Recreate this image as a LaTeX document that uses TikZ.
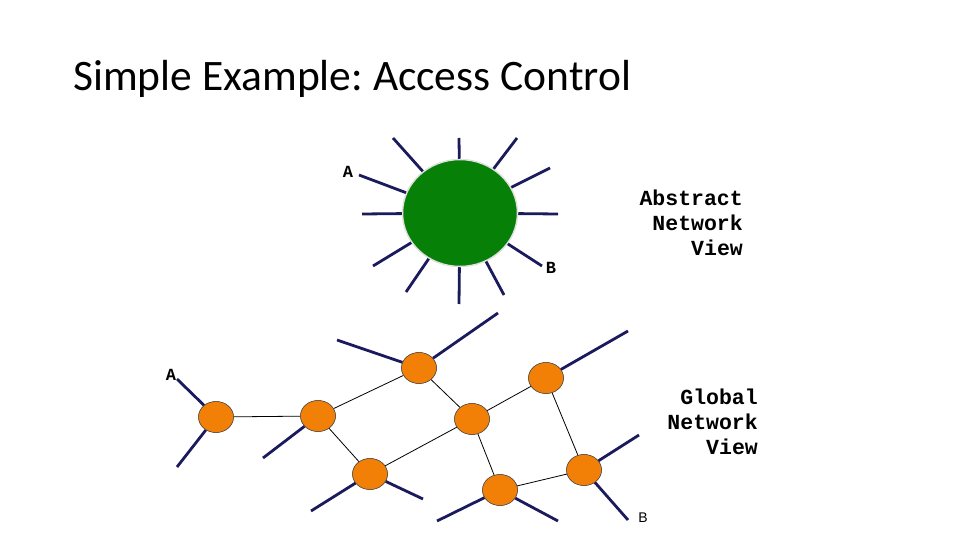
\documentclass[tikz,border=0pt]{standalone}
\usepackage{fontspec}
\usepackage{tikz}
\usetikzlibrary{shapes.geometric}
\setmainfont{Carlito}
\newfontfamily\monofont{Liberation Mono}
\newfontfamily\labelsans{Liberation Sans}
\definecolor{spokeblue}{HTML}{1B1A5C}
\definecolor{hubgreen}{HTML}{078007}
\definecolor{routerorange}{HTML}{F28006}
\frenchspacing

\begin{document}
\begin{tikzpicture}[x=1pt, y=-1pt,
    spoke/.style={draw=spokeblue, line width=2.8pt},
    link/.style={draw=black, line width=0.8pt},
    router/.style={ellipse, draw=black!70, line width=0.5pt, fill=routerorange, minimum width=35pt, minimum height=31pt, inner sep=0pt},
    hostlbl/.style={font=\monofont\bfseries\fontsize{17}{17}\selectfont, inner sep=0pt},
    viewlbl/.style={font=\monofont\bfseries\fontsize{21.5}{25}\selectfont, align=right, inner sep=0pt, anchor=east}]

    \useasboundingbox (0,0) rectangle (960,540);

    % Title
    \node (title) [anchor=base west, inner sep=0pt, font=\fontsize{43.5}{43.5}\selectfont] at (73,91) {Simple Example: Access Control};

    % Abstract view: one big switch
    \node (hub) [ellipse, draw=black!12, line width=1.5pt, fill=hubgreen, minimum width=115pt, minimum height=107pt, inner sep=0pt] at (460,213) {};

    \coordinate (h1) at (459,138);
    \coordinate (h2) at (517,138);
    \coordinate (h3) at (550,168);
    \coordinate (h4) at (558,214);
    \coordinate (h5) at (542,266);
    \coordinate (h6) at (504,295);
    \coordinate (h7) at (459,304);
    \coordinate (h8) at (406,292);
    \coordinate (h9) at (373,266);
    \coordinate (h10) at (362,214);
    \coordinate (h11) at (359,175);
    \coordinate (h12) at (393,138);
    \foreach \i in {1,...,12}
        \draw[spoke] (hub) -- (h\i);

    \node (hostA) [hostlbl] at (348,172) {A};
    \node (hostB) [hostlbl] at (551,268) {B};

    \node (abstract) [viewlbl] at (743,223) {Abstract\\Network\\View};

    % Global view: the physical switches
    \node (s1) [router] at (216,417) {};
    \node (s2) [router] at (318,416) {};
    \node (s3) [router] at (419,368) {};
    \node (s4) [router] at (472,419) {};
    \node (s5) [router] at (370,474) {};
    \node (s6) [router] at (546,378) {};
    \node (s7) [router] at (500,490) {};
    \node (s8) [router] at (584,470) {};

    % Links between switches
    \draw[link] (s1) -- (s2);
    \draw[link] (s2) -- (s3);
    \draw[link] (s2) -- (s5);
    \draw[link] (s3) -- (s4);
    \draw[link] (s5) -- (s4);
    \draw[link] (s4) -- (s6);
    \draw[link] (s4) -- (s7);
    \draw[link] (s6) -- (s8);
    \draw[link] (s7) -- (s8);

    % Host ports
    \coordinate (p1a) at (177,379);
    \coordinate (p1b) at (177,467);
    \coordinate (p2a) at (263,458);
    \coordinate (p3a) at (337,340);
    \coordinate (p3b) at (498,313);
    \coordinate (p5a) at (311,511);
    \coordinate (p5b) at (423,499);
    \coordinate (p6a) at (628,331);
    \coordinate (p7a) at (437,521);
    \coordinate (p7b) at (558,521);
    \coordinate (p8a) at (639,435);
    \coordinate (p8b) at (628,520);

    \draw[spoke] (s1) -- (p1a);
    \draw[spoke] (s1) -- (p1b);
    \draw[spoke] (s2) -- (p2a);
    \draw[spoke] (s3) -- (p3a);
    \draw[spoke] (s3) -- (p3b);
    \draw[spoke] (s5) -- (p5a);
    \draw[spoke] (s5) -- (p5b);
    \draw[spoke] (s6) -- (p6a);
    \draw[spoke] (s7) -- (p7a);
    \draw[spoke] (s7) -- (p7b);
    \draw[spoke] (s8) -- (p8a);
    \draw[spoke] (s8) -- (p8b);

    % redraw switches over the ports
    \foreach \s/\x/\y in {s1/216/417, s2/318/416, s3/419/368, s4/472/419, s5/370/474, s6/546/378, s7/500/490, s8/584/470}
        \node [router] at (\x,\y) {};

    \node (portA) [hostlbl] at (171,375) {A};
    \node (portB) [inner sep=0pt, font=\labelsans\fontsize{14}{14}\selectfont] at (643,518) {B};

    \node (global) [viewlbl] at (758,422) {Global\\Network\\View};

\end{tikzpicture}
\end{document}
